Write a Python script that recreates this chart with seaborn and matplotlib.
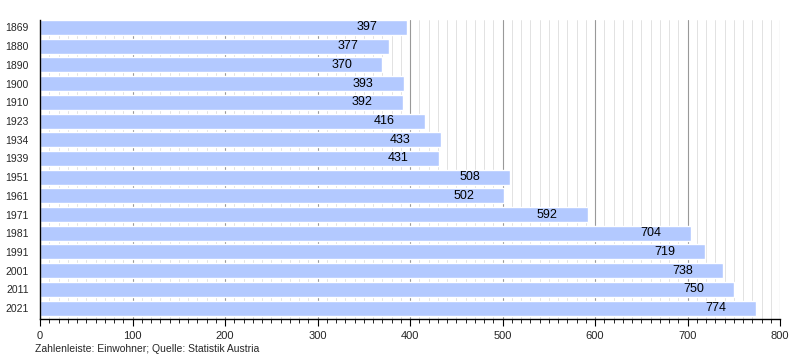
import matplotlib
matplotlib.use("Agg")
import matplotlib.pyplot as plt
import seaborn as sns
import pandas as pd
from matplotlib.ticker import MultipleLocator

years = ["1869", "1880", "1890", "1900", "1910", "1923", "1934", "1939",
         "1951", "1961", "1971", "1981", "1991", "2001", "2011", "2021"]
population = [397, 377, 370, 393, 392, 416, 433, 431,
              508, 502, 592, 704, 719, 738, 750, 774]
footer = "Zahlenleiste: Einwohner; Quelle: Statistik Austria"

sns.set_theme(style="white")
plt.rcParams['font.family'] = ['Liberation Sans', 'DejaVu Sans']

df = pd.DataFrame({"Jahr": years, "Einwohner": population})

fig = plt.figure(figsize=(8, 3.6), dpi=100)
ax = fig.add_axes([0.05, 0.113, 0.925, 0.8314])

sns.barplot(data=df, x="Einwohner", y="Jahr", orient="h", color="#b3c9ff",
            saturation=1, width=0.8, ax=ax, zorder=2)

ax.set_xlim(0, 800)
ax.set_ylim(15.6, -0.4)
ax.xaxis.set_major_locator(MultipleLocator(100))
ax.xaxis.set_minor_locator(MultipleLocator(10))
ax.grid(True, which="major", axis="x", color="#999999", linewidth=0.8, zorder=0)
ax.grid(True, which="minor", axis="x", color="#dddddd", linewidth=0.6, zorder=0)
ax.set_axisbelow(True)

for s in ["top", "right"]:
    ax.spines[s].set_visible(False)
for s in ["left", "bottom"]:
    ax.spines[s].set_color("black")
    ax.spines[s].set_linewidth(1)

ax.tick_params(axis="x", which="major", direction="out", length=5, width=0.8,
               color="black", labelsize=8, bottom=True)
ax.tick_params(axis="x", which="minor", direction="out", length=3, width=0.6,
               color="black", bottom=True)
ax.tick_params(axis="y", length=0, labelsize=7.5, pad=8)
ax.set_xlabel("")
ax.set_ylabel("")

for i, v in enumerate(population):
    ax.annotate(str(v), xy=(v, i), xytext=(-21.5, 0), textcoords="offset points",
                ha="right", va="center", fontsize=9, color="black", zorder=3)

fig.text(35 / 800, 1 - 349 / 360, footer, fontsize=7.5, ha="left", va="center")

fig.savefig("out.png", dpi=100)
